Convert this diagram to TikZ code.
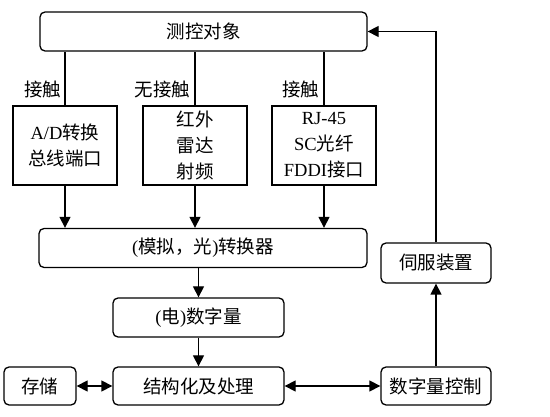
\documentclass[tikz,border=0pt]{standalone}
\usepackage{fontspec}
\setmainfont{Liberation Serif}
\newfontfamily\cjk{Noto Sans CJK SC}
\usetikzlibrary{arrows.meta}
\tikzset{
  blk/.style={draw, rounded corners=5pt, minimum height=39pt, inner sep=0pt},
  sqbox/.style={draw, minimum width=104pt, minimum height=79pt, align=center, inner sep=0pt},
  lbl/.style={anchor=east, inner sep=1pt},
  >={Triangle[length=11pt,width=11pt]}
}

\begin{document}
\begin{tikzpicture}[x=1pt, y=-1pt, line width=1.3pt, font=\fontsize{18.5}{26}\selectfont]
   \useasboundingbox (0,0) rectangle (550,417);

   \node [blk, minimum width=327pt] (obj) at (203.5,31.5) {\cjk 测控对象};

   \node [sqbox] (ad) at (65,145.5) {A/D{\cjk 转换}\\{\cjk 总线端口}};
   \node [sqbox] (ir) at (195,145.5) {\cjk 红外\\\cjk 雷达\\\cjk 射频};
   \node [sqbox] (rj) at (324,145.5) {RJ-45\\SC{\cjk 光纤}\\FDDI{\cjk 接口}};

   \node [blk, minimum width=328pt] (conv) at (203,248) {({\cjk 模拟，光})\cjk 转换器};
   \node [blk, minimum width=110pt, minimum height=40pt] (servo) at (436,263) {\cjk 伺服装置};
   \node [blk, minimum width=171pt] (dig) at (198.5,317.5) {({\cjk 电})\cjk 数字量};

   \node [blk, minimum width=72pt, minimum height=38pt] (store) at (40,386) {\cjk 存储};
   \node [blk, minimum width=171pt, minimum height=38pt] (proc) at (198.5,386) {\cjk 结构化及处理};
   \node [blk, minimum width=110pt, minimum height=38pt] (ctrl) at (436,386) {\cjk 数字量控制};

   % links from the object
   \draw (ad.north) -- (ad.north |- obj.south);
   \draw (ir.north) -- (ir.north |- obj.south);
   \draw (rj.north) -- (rj.north |- obj.south);
   \node [lbl] at (63,89) {\cjk 接触};
   \node [lbl] at (192,89) {\cjk 无接触};
   \node [lbl] at (321,89) {\cjk 接触};

   \draw [->] (ad.south) -- (ad.south |- conv.north);
   \draw [->] (ir.south) -- (ir.south |- conv.north);
   \draw [->] (rj.south) -- (rj.south |- conv.north);

   \draw [->] (conv.south -| dig.north) -- (dig.north);
   \draw [->] (dig.south) -- (proc.north);

   \draw [<->] (store.east) -- (proc.west);
   \draw [<->] (proc.east) -- (ctrl.west);

   % feedback
   \draw [->] (ctrl.north) -- (servo.south);
   \draw [->] (servo.north) |- (obj.east);
\end{tikzpicture}
\end{document}
